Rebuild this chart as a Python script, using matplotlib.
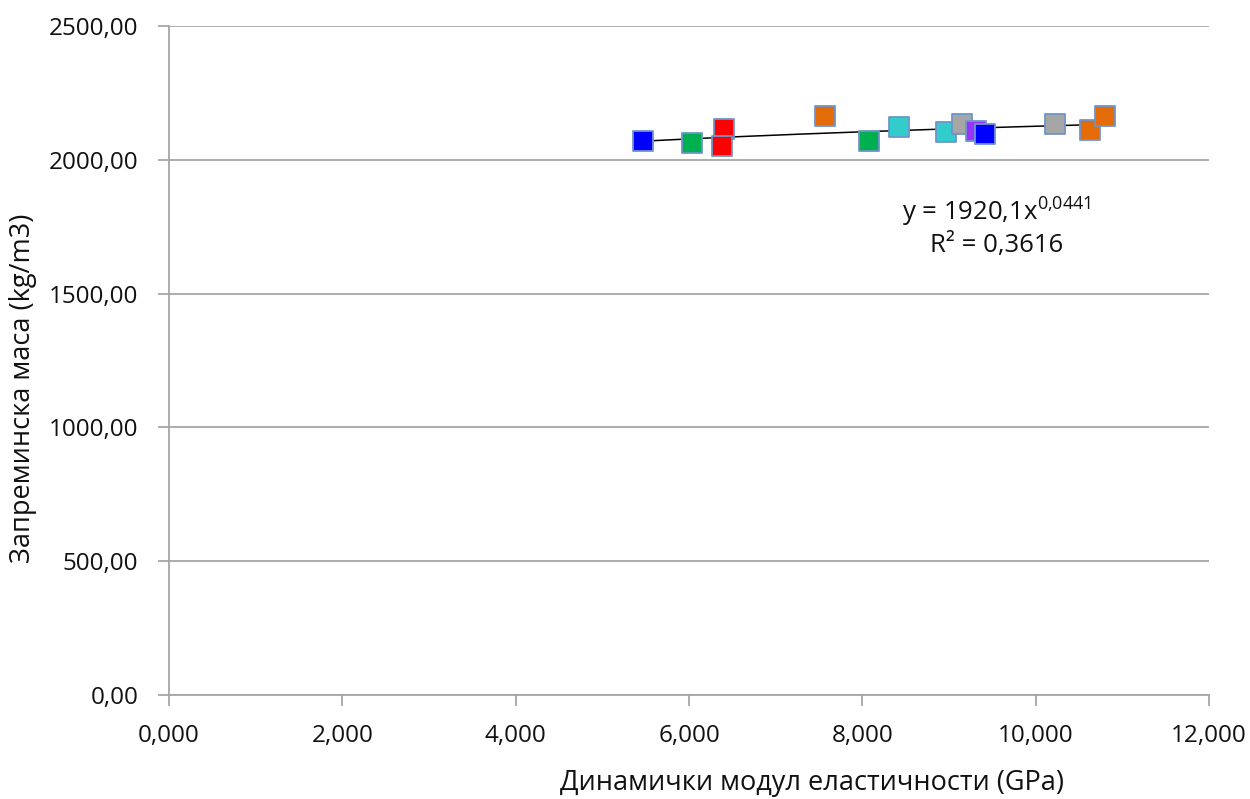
import numpy as np
import matplotlib
matplotlib.use("Agg")
import matplotlib.pyplot as plt
from matplotlib.ticker import FuncFormatter, MultipleLocator

plt.rcParams['font.family'] = ['Open Sans', 'DejaVu Sans']
plt.rcParams['mathtext.fontset'] = 'custom'
plt.rcParams['mathtext.rm'] = 'Open Sans'
plt.rcParams['mathtext.default'] = 'regular'

# Dynamic modulus of elasticity (GPa) and bulk density (kg/m3) per sample
modulus = [5.47, 6.04, 6.40, 6.38, 7.57, 8.08, 8.42, 8.96, 9.15, 9.31, 9.41, 10.22, 10.63, 10.80]
density = [2071, 2064, 2114, 2053, 2163, 2070, 2124, 2103, 2135, 2108, 2096, 2135, 2113, 2163]
colors = ['#0000FF', '#00B050', '#FF0000', '#FF0000', '#E36C09', '#00B050', '#33CCCC',
          '#33CCCC', '#A6A6A6', '#9933FF', '#0000FF', '#A6A6A6', '#E36C09', '#E36C09']

# Power trend line coefficients
coef_a = 1920.1
coef_b = 0.0441
r_squared = 0.3616

fig = plt.figure(figsize=(12.5, 7.99), dpi=100)
ax = fig.add_axes([0.1352, 0.1302, 0.832, 0.8373])

xt = np.linspace(min(modulus), max(modulus), 200)
ax.plot(xt, coef_a * xt ** coef_b, color='black', lw=1.1, zorder=2)

# draw in order so later samples sit on top
for x, y, c in zip(modulus, density, colors):
    ax.scatter([x], [y], marker='s', s=14.4 ** 2, color=c, edgecolors='#6F95C9',
               linewidths=1.3, zorder=3)

ax.set_xlim(0, 12)
ax.set_ylim(0, 2500)
ax.xaxis.set_major_locator(MultipleLocator(2))
ax.yaxis.set_major_locator(MultipleLocator(500))
ax.xaxis.set_major_formatter(FuncFormatter(lambda v, p: f"{v:.3f}".replace('.', ',')))
ax.yaxis.set_major_formatter(FuncFormatter(lambda v, p: f"{v:.2f}".replace('.', ',')))

ax.grid(axis='y', color='#A6A6A6', lw=1.3)
ax.set_axisbelow(True)
for s in ['top', 'right']:
    ax.spines[s].set_visible(False)
for s in ['left', 'bottom']:
    ax.spines[s].set_color('#A6A6A6')
    ax.spines[s].set_linewidth(1.3)
ax.tick_params(axis='both', colors='#A6A6A6', width=1.3, length=8, labelsize=17.5,
               labelcolor='#111111')
ax.tick_params(axis='x', pad=13)
ax.tick_params(axis='y', pad=14)

ax.set_xlabel('Динамички модул еластичности (GPa)', fontsize=19.5, color='#111111')
ax.set_ylabel('Запреминска маса (kg/m3)', fontsize=19.5, color='#111111')
ax.xaxis.set_label_coords(0.618, -0.110)
ax.yaxis.set_label_coords(-0.127, 0.459)

ax.text(9.55, 1805, f"y = {coef_a:.1f}".replace('.', ',') + "x$^{" + f"{coef_b}".replace('.', '{,}') + "}$",
        fontsize=18.5, ha='center', va='center', color='#111111')
ax.text(9.55, 1680, "R² = " + f"{r_squared}".replace('.', ','),
        fontsize=18.5, ha='center', va='center', color='#111111')

fig.savefig('out.png', dpi=100)
